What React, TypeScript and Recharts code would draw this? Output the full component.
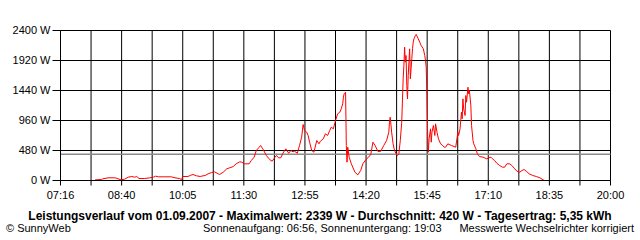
import React from "react";
import { LineChart, Line, XAxis, YAxis, CartesianGrid, ReferenceLine } from "recharts";

// Messzeitpunkte (hh:mm) und Leistung in W
const times = [
  "08:04", "08:13", "08:15", "08:22", "08:32", "08:36", "08:40", "08:45", "08:50", "08:55",
  "08:59", "09:02", "09:05", "09:13", "09:20", "09:25", "09:28", "09:32", "09:41", "09:50",
  "09:55", "10:01", "10:04", "10:06", "10:13", "10:17", "10:20", "10:25", "10:30", "10:34",
  "10:37", "10:41", "10:46", "10:50", "10:55", "10:57", "11:02", "11:07", "11:11", "11:16",
  "11:20", "11:25", "11:28", "11:31", "11:38", "11:41", "11:45", "11:48", "11:52", "11:54",
  "11:57", "12:02", "12:07", "12:10", "12:14", "12:16", "12:19", "12:22", "12:25", "12:29",
  "12:33", "12:36", "12:39", "12:41", "12:45", "12:48", "12:51", "12:53", "12:55", "12:58",
  "13:00", "13:02", "13:05", "13:08", "13:12", "13:15", "13:17", "13:21", "13:24", "13:27",
  "13:30", "13:32", "13:35", "13:38", "13:41", "13:44", "13:46", "13:48", "13:49", "13:50",
  "13:52", "13:53", "13:54", "13:55", "13:57", "14:00", "14:05", "14:09", "14:13", "14:16",
  "14:20", "14:23", "14:27", "14:30", "14:33", "14:37", "14:41", "14:45", "14:49", "14:52",
  "14:53", "14:54", "14:56", "14:58", "15:00", "15:03", "15:04", "15:06", "15:08", "15:10",
  "15:12", "15:13", "15:14", "15:15", "15:16", "15:17", "15:18", "15:19", "15:20", "15:21",
  "15:22", "15:23", "15:24", "15:25", "15:26", "15:27", "15:29", "15:30", "15:33", "15:35",
  "15:37", "15:40", "15:42", "15:43", "15:44", "15:45", "15:46", "15:47", "15:48", "15:50",
  "15:51", "15:52", "15:54", "15:56", "15:57", "15:59", "16:01", "16:04", "16:06", "16:09",
  "16:11", "16:14", "16:19", "16:25", "16:27", "16:28", "16:29", "16:31", "16:33", "16:34",
  "16:35", "16:36", "16:38", "16:39", "16:40", "16:42", "16:43", "16:44", "16:46", "16:47",
  "16:49", "16:50", "16:53", "16:55", "16:58", "17:03", "17:08", "17:11", "17:14", "17:16",
  "17:19", "17:22", "17:26", "17:30", "17:33", "17:36", "17:40", "17:43", "17:47", "17:50",
  "17:54", "17:57", "18:00", "18:03", "18:07", "18:12", "18:17", "18:22", "18:25", "18:28",
];

const watts = [
  10, 16, 27, 43, 43, 27, 11, 21, 53, 64,
  53, 64, 32, 32, 43, 53, 69, 59, 59, 59,
  43, 32, 16, 64, 64, 85, 96, 75, 64, 75,
  80, 107, 128, 139, 107, 96, 133, 187, 203, 224,
  267, 299, 293, 267, 267, 320, 373, 480, 533, 560,
  507, 400, 331, 309, 373, 400, 363, 363, 437, 507,
  437, 480, 459, 469, 437, 560, 693, 896, 800, 773,
  720, 613, 480, 453, 640, 587, 629, 667, 747, 720,
  800, 853, 827, 960, 1067, 1093, 1147, 1227, 1333, 1387,
  1413, 560, 293, 533, 373, 267, 133, 91, 160, 267,
  331, 363, 416, 613, 560, 464, 469, 560, 640, 773,
  933, 1013, 773, 587, 480, 411, 400, 427, 640, 933,
  1627, 1840, 2133, 1893, 2000, 1520, 1307, 1680, 1893, 2107,
  1627, 1787, 1947, 2107, 2213, 2267, 2320, 2339, 2267, 2213,
  2160, 2107, 2000, 1920, 1813, 1360, 720, 453, 667, 827,
  613, 773, 880, 720, 907, 773, 667, 587, 571, 533,
  533, 587, 560, 533, 693, 773, 720, 827, 1093, 987,
  1307, 1147, 1040, 1360, 1253, 1493, 1387, 1440, 1200, 880,
  640, 587, 507, 427, 384, 373, 347, 363, 373, 347,
  320, 277, 240, 213, 213, 267, 267, 240, 187, 149,
  133, 160, 176, 149, 107, 80, 64, 43, 21, 0,
];

const xTickLabels = ["07:16", "08:40", "10:05", "11:30", "12:55", "14:20", "15:45", "17:10", "18:35", "20:00"];
const yTicks = [0, 480, 960, 1440, 1920, 2400];
const average = 420;

const toMin = (s: string) => {
  const [h, m] = s.split(":").map(Number);
  return h * 60 + m;
};

const data = times.map((t, i) => ({ t: toMin(t), w: watts[i] }));

const xStart = toMin(xTickLabels[0]);
const xEnd = toMin(xTickLabels[xTickLabels.length - 1]);
const steps = (xTickLabels.length - 1) * 2;
const xTicks = Array.from({ length: steps + 1 }, (_, i) => xStart + ((xEnd - xStart) * i) / steps);

const font = "'Liberation Sans', Arial, sans-serif";

export default function App() {
  return (
    <div style={{ position: "absolute", left: 0, top: 0, width: 640, height: 240, background: "#fff", fontFamily: font }}>
      <LineChart width={640} height={240} data={data} margin={{ top: 30.5, right: 29.5, left: 0.5, bottom: 39.5 }}>
        <CartesianGrid stroke="#000" strokeWidth={1} />
        <XAxis
          type="number"
          dataKey="t"
          domain={[xStart, xEnd]}
          ticks={xTicks}
          interval={0}
          height={20}
          tickFormatter={(_v: number, i: number) => (i % 2 === 0 ? xTickLabels[i / 2] : "")}
          tick={{ fontSize: 11, fill: "#000", fontFamily: font }}
          tickSize={5}
          tickMargin={6}
          stroke="#000"
        />
        <YAxis
          type="number"
          domain={[0, 2400]}
          ticks={yTicks}
          interval={0}
          width={60}
          tickFormatter={(v: number) => `${v} W`}
          tick={{ fontSize: 11, fill: "#000", fontFamily: font }}
          tickSize={8}
          tickMargin={2}
          stroke="#000"
        />
        <ReferenceLine y={average} stroke="#8c8c8c" strokeWidth={1.5} />
        <Line type="linear" dataKey="w" stroke="#ff0000" strokeWidth={1} dot={false} isAnimationActive={false} />
      </LineChart>
      <div style={{ position: "absolute", left: 0, width: 640, top: 209, textAlign: "center", fontSize: 12, fontWeight: "bold", color: "#000" }}>
        Leistungsverlauf vom 01.09.2007 - Maximalwert: 2339 W - Durchschnitt: 420 W - Tagesertrag: 5,35 kWh
      </div>
      <div style={{ position: "absolute", left: 6, top: 222, fontSize: 11, color: "#000" }}>© SunnyWeb</div>
      <div style={{ position: "absolute", left: 203, top: 222, fontSize: 11, color: "#000" }}>
        Sonnenaufgang: 06:56, Sonnenuntergang: 19:03
      </div>
      <div style={{ position: "absolute", right: 6, top: 222, fontSize: 11, color: "#000" }}>
        Messwerte Wechselrichter korrigiert
      </div>
    </div>
  );
}
